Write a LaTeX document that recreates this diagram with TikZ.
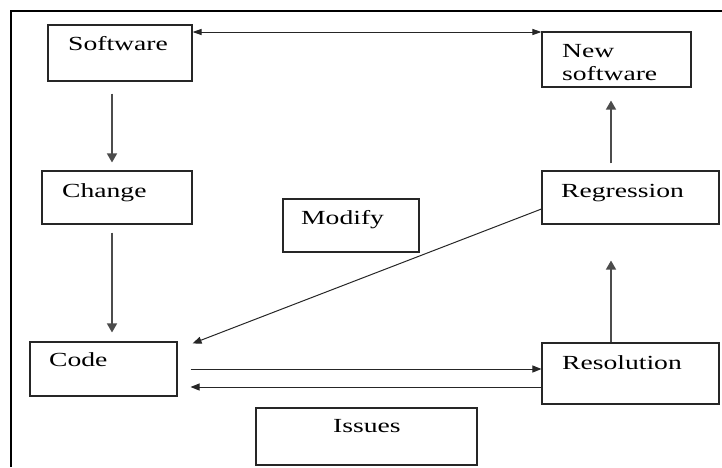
\documentclass[tikz,border=0pt]{standalone}
\usepackage{fontspec}
\setmainfont[FakeStretch=1.38]{Liberation Serif}
\usetikzlibrary{arrows.meta,calc}
\begin{document}
\begin{tikzpicture}[x=1pt,y=-1pt,
  box/.style={draw=black!85,line width=1.1pt,rectangle,inner sep=0pt},
  lbl/.style={anchor=base west,inner sep=0pt,font=\fontsize{20}{22}\selectfont,text=black},
  arr/.style={draw=black!85,line width=1pt,-{Triangle[length=9pt,width=7pt]}},
  darr/.style={draw=black!85,line width=1pt,{Triangle[length=9pt,width=6pt]}-{Triangle[length=9pt,width=6pt]}},
  varr/.style={draw=black!70,line width=1.4pt,-{Triangle[length=9pt,width=10pt]}}]
\useasboundingbox (0,0) rectangle (722,467);
\draw[line width=1.5pt] (11,467) -- (11,11) -- (722,11);
% boxes
\node[box,minimum width=144pt,minimum height=56pt] (soft) at (120,53) {};
\node[box,minimum width=150pt,minimum height=53pt] (chg) at (117,197.5) {};
\node[box,minimum width=136pt,minimum height=53pt] (mod) at (351,225.5) {};
\node[box,minimum width=149pt,minimum height=55pt] (new) at (616.5,59.5) {};
\node[box,minimum width=177pt,minimum height=53pt] (reg) at (630.5,197.5) {};
\node[box,minimum width=147pt,minimum height=54pt] (code) at (103.5,369) {};
\node[box,minimum width=177pt,minimum height=61pt] (res) at (630.5,373.5) {};
\node[box,minimum width=221pt,minimum height=57pt] (iss) at (366.5,436.5) {};
% labels
\node[lbl] (tsoft) at (68,50) {Software};
\node[lbl] (tchg) at (62,197) {Change};
\node[lbl] (tmod) at (301,224) {Modify};
\node[lbl] (tnew1) at (562,57) {New};
\node[lbl] (tnew2) at (562,80) {software};
\node[lbl] (treg) at (561,197) {Regression};
\node[lbl] (tcode) at (49,366) {Code};
\node[lbl] (tres) at (562,369) {Resolution};
\node[lbl] (tiss) at (333,432) {Issues};
% helper coordinates
\coordinate (vl) at (112,0);
\coordinate (vr) at (611,0);
\coordinate (ht) at (0,32);
\coordinate (h1) at (0,369);
\coordinate (h2) at (0,387);
% connectors
\draw[darr] (soft.east|-ht) -- (new.west|-ht);
\draw[varr,shorten <=12pt,shorten >=8pt] (vl|-soft.south) -- (vl|-chg.north);
\draw[varr,shorten <=8pt,shorten >=9pt] (vl|-chg.south) -- (vl|-code.north);
\draw[varr,shorten <=7pt,shorten >=13pt] (vr|-reg.north) -- (vr|-new.south);
\draw[varr,shorten >=36pt] (vr|-res.north) -- (vr|-reg.south);
\draw[arr] ([yshift=-11.5pt]reg.west) -- ([xshift=15pt,yshift=-2pt]code.north east);
\draw[arr] ($(code.east|-h1)+(13,0)$) -- (res.west|-h1);
\draw[arr] (res.west|-h2) -- ($(code.east|-h2)+(13,0)$);
\end{tikzpicture}
\end{document}
